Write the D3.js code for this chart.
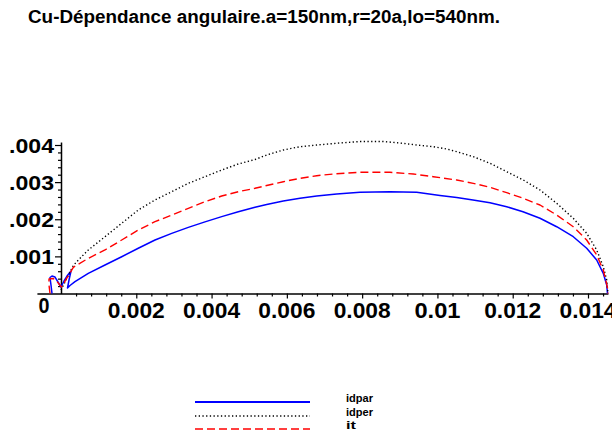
<!DOCTYPE html>
<html>
<head>
<meta charset="utf-8">
<script src="https://cdn.jsdelivr.net/npm/d3@7"></script>
<style>
  html, body { margin: 0; padding: 0; background: #fff; }
  svg { display: block; }
  text { font-family: "Liberation Sans Narrow", "Arial Narrow", "Liberation Sans", Arial, sans-serif; font-weight: bold; fill: #000; }
</style>
</head>
<body>
<svg id="chart" width="612" height="434"></svg>
<script>
// ---- data ----
const titleText = "Cu-Dépendance angulaire.a=150nm,r=20a,lo=540nm.";

const idparX = [-0.239e-3,-0.266e-3,-0.292e-3,-0.239e-3,-0.159e-3,-0.080e-3,0,0.080e-3,0.159e-3,0.266e-3,0.213e-3,0.173e-3,0.239e-3,0.372e-3,0.725e-3,1.169e-3,1.612e-3,2.053e-3,2.497e-3,2.941e-3,3.382e-3,3.825e-3,4.269e-3,4.710e-3,5.154e-3,5.464e-3,5.905e-3,6.349e-3,6.793e-3,7.324e-3,7.943e-3,8.740e-3,9.449e-3,10.068e-3,10.512e-3,10.945e-3,11.396e-3,11.840e-3,12.273e-3,12.725e-3,13.168e-3,13.609e-3,13.965e-3,14.231e-3,14.406e-3,14.497e-3,14.518e-3];
const idparY = [0,0.229e-3,0.431e-3,0.471e-3,0.444e-3,0.310e-3,0.175e-3,0.337e-3,0.471e-3,0.606e-3,0.364e-3,0.148e-3,0.215e-3,0.318e-3,0.544e-3,0.768e-3,0.991e-3,1.218e-3,1.441e-3,1.620e-3,1.780e-3,1.930e-3,2.070e-3,2.200e-3,2.322e-3,2.397e-3,2.492e-3,2.564e-3,2.626e-3,2.680e-3,2.726e-3,2.739e-3,2.726e-3,2.640e-3,2.586e-3,2.519e-3,2.446e-3,2.338e-3,2.203e-3,2.026e-3,1.799e-3,1.530e-3,1.218e-3,0.902e-3,0.544e-3,0.229e-3,0];

const idperX = [0,0.080e-3,0.159e-3,0.239e-3,0.327e-3,0.460e-3,0.725e-3,1.169e-3,1.612e-3,2.053e-3,2.497e-3,2.941e-3,3.382e-3,3.825e-3,4.269e-3,4.710e-3,5.154e-3,5.464e-3,5.905e-3,6.349e-3,6.793e-3,7.412e-3,7.943e-3,8.562e-3,9.006e-3,9.449e-3,9.890e-3,10.246e-3,10.512e-3,10.953e-3,11.396e-3,11.840e-3,12.281e-3,12.725e-3,13.168e-3,13.609e-3,13.965e-3,14.231e-3,14.406e-3,14.497e-3,14.531e-3];
const idperY = [0.094e-3,0.256e-3,0.418e-3,0.579e-3,0.754e-3,0.902e-3,1.172e-3,1.530e-3,1.891e-3,2.249e-3,2.519e-3,2.742e-3,2.968e-3,3.146e-3,3.327e-3,3.488e-3,3.609e-3,3.731e-3,3.865e-3,3.954e-3,4.000e-3,4.054e-3,4.094e-3,4.094e-3,4.054e-3,4.000e-3,3.954e-3,3.892e-3,3.820e-3,3.685e-3,3.507e-3,3.281e-3,3.057e-3,2.788e-3,2.430e-3,2.026e-3,1.622e-3,1.172e-3,0.722e-3,0.364e-3,0];

const itX = [-0.292e-3,-0.319e-3,-0.319e-3,-0.213e-3,-0.133e-3,-0.053e-3,0.013e-3,0.080e-3,0.159e-3,0.239e-3,0.327e-3,0.725e-3,1.169e-3,1.612e-3,2.053e-3,2.497e-3,2.941e-3,3.382e-3,3.825e-3,4.269e-3,4.710e-3,5.154e-3,5.464e-3,5.905e-3,6.349e-3,6.793e-3,7.234e-3,7.943e-3,8.740e-3,9.359e-3,9.890e-3,10.512e-3,10.953e-3,11.396e-3,11.840e-3,12.281e-3,12.725e-3,13.168e-3,13.609e-3,13.965e-3,14.231e-3,14.406e-3,14.512e-3,14.531e-3];
const itY = [0,0.229e-3,0.391e-3,0.404e-3,0.364e-3,0.256e-3,0.175e-3,0.283e-3,0.418e-3,0.552e-3,0.706e-3,0.948e-3,1.172e-3,1.441e-3,1.710e-3,1.934e-3,2.114e-3,2.295e-3,2.473e-3,2.626e-3,2.742e-3,2.834e-3,2.909e-3,3.011e-3,3.103e-3,3.173e-3,3.219e-3,3.265e-3,3.265e-3,3.219e-3,3.146e-3,3.057e-3,2.968e-3,2.861e-3,2.715e-3,2.564e-3,2.384e-3,2.114e-3,1.799e-3,1.441e-3,1.037e-3,0.633e-3,0.183e-3,0];

const seriesNames = ["idpar", "idper", "it"];
const xTickValues = [0.002, 0.004, 0.006, 0.008, 0.010, 0.012, 0.014];
const xTickLabels = ["0.002", "0.004", "0.006", "0.008", "0.01", "0.012", "0.014"];
const yTickValues = [0.001, 0.002, 0.003, 0.004];
const yTickLabels = [".001", ".002", ".003", ".004"];
const originLabel = "0";

// ---- layout / style ----
const svg = d3.select("#chart");
const xs = d3.scaleLinear().domain([0, 0.014]).range([61, 588]);
const ys = d3.scaleLinear().domain([0, 0.004]).range([293.5, 145]);
const xAxisDomain = [-0.00064, 0.01453];
const yAxisDomain = [0, 0.00408];

const styles = [
  { color: "#0000ff", dash: null, width: 1.5 },
  { color: "#000000", dash: "1.3,2.4", width: 1.4 },
  { color: "#ff0000", dash: "8,4", width: 1.4 }
];
const series = [
  { name: seriesNames[0], xs: idparX, ys: idparY, st: styles[0] },
  { name: seriesNames[1], xs: idperX, ys: idperY, st: styles[1] },
  { name: seriesNames[2], xs: itX, ys: itY, st: styles[2] }
];

// title
svg.append("text")
  .attr("x", 28).attr("y", 23)
  .attr("font-size", 18)
  .attr("textLength", 472).attr("lengthAdjust", "spacingAndGlyphs")
  .text(titleText);

// axes
const xAxisScale = xs.copy().domain(xAxisDomain).range(xAxisDomain.map(xs));
const yAxisScale = ys.copy().domain(yAxisDomain).range(yAxisDomain.map(ys));

const xMinor = d3.range(1, 37).map(i => i * 0.0004).filter(v => v < 0.0145 && Math.abs(v / 0.002 - Math.round(v / 0.002)) > 1e-6);
const yMinor = d3.range(1, 20).map(i => i * 0.0002).filter(v => Math.abs(v / 0.001 - Math.round(v / 0.001)) > 1e-6);

svg.append("g").attr("transform", `translate(0,${ys(0)})`)
  .call(d3.axisBottom(xAxisScale).tickValues(xTickValues).tickFormat("").tickSize(5).tickSizeOuter(0));
svg.append("g").attr("transform", `translate(0,${ys(0)})`)
  .call(d3.axisBottom(xAxisScale).tickValues(xMinor).tickFormat("").tickSize(3).tickSizeOuter(0))
  .select(".domain").remove();

svg.append("g").attr("transform", `translate(${xs(0)},0)`)
  .call(d3.axisLeft(yAxisScale).tickValues(yTickValues).tickFormat("").tickSize(6).tickSizeOuter(0));
svg.append("g").attr("transform", `translate(${xs(0)},0)`)
  .call(d3.axisLeft(yAxisScale).tickValues(yMinor).tickFormat("").tickSize(3).tickSizeOuter(0))
  .select(".domain").remove();

svg.selectAll(".domain").attr("stroke", "#000").attr("stroke-width", 1.5);
svg.selectAll(".tick line").attr("stroke", "#000").attr("stroke-width", 1.2);

// tick labels
svg.append("g").selectAll("text").data(xTickValues).join("text")
  .attr("x", d => xs(d)).attr("y", 318)
  .attr("text-anchor", "middle")
  .attr("font-size", 22)
  .attr("textLength", (d, i) => xTickLabels[i].length === 4 ? 46 : 57)
  .attr("lengthAdjust", "spacingAndGlyphs")
  .text((d, i) => xTickLabels[i]);

svg.append("g").selectAll("text").data(yTickValues).join("text")
  .attr("x", 54).attr("y", d => ys(d) + 8)
  .attr("text-anchor", "end")
  .attr("font-size", 21)
  .attr("textLength", 45)
  .attr("lengthAdjust", "spacingAndGlyphs")
  .text((d, i) => yTickLabels[i]);

svg.append("text")
  .attr("x", xs(0) - 17).attr("y", 313)
  .attr("text-anchor", "middle")
  .attr("font-size", 22)
  .attr("textLength", 11).attr("lengthAdjust", "spacingAndGlyphs")
  .text(originLabel);

// curves
const line = d3.line().x(d => xs(d[0])).y(d => ys(d[1]));
series.forEach(s => {
  const pts = s.xs.map((v, i) => [v, s.ys[i]]);
  svg.append("path")
    .attr("d", line(pts))
    .attr("fill", "none")
    .attr("stroke", s.st.color)
    .attr("stroke-width", s.st.width)
    .attr("stroke-dasharray", s.st.dash)
    .attr("stroke-linejoin", "round");
});

// legend
const legY = [402, 416, 429];
const legTextY = [402, 415.5, 429];
series.forEach((s, i) => {
  svg.append("line")
    .attr("x1", 195).attr("x2", 310)
    .attr("y1", legY[i]).attr("y2", legY[i])
    .attr("stroke", s.st.color)
    .attr("stroke-width", s.st.width + 0.3)
    .attr("stroke-dasharray", s.st.dash);
  svg.append("text")
    .attr("x", 346).attr("y", legTextY[i])
    .attr("font-size", 11.5)
    .attr("textLength", s.name.length > 2 ? 27 : 10)
    .attr("lengthAdjust", "spacingAndGlyphs")
    .text(s.name);
});
</script>
</body>
</html>
